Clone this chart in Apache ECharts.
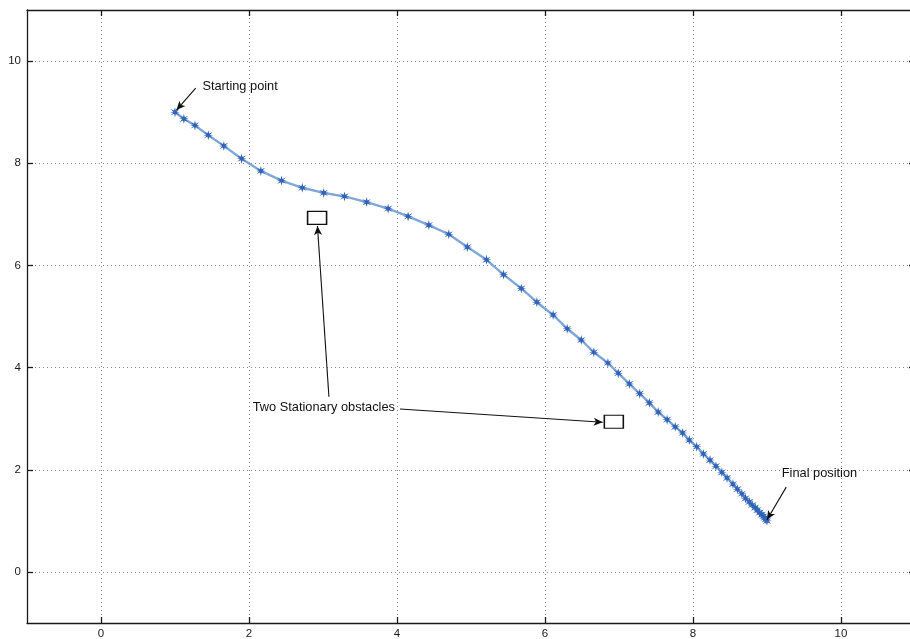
<!DOCTYPE html>
<html>
<head>
<meta charset="utf-8">
<script src="https://cdn.jsdelivr.net/npm/echarts@6/dist/echarts.min.js"></script>
<style>
  html, body { margin: 0; padding: 0; background: #ffffff; }
  #chart { width: 910px; height: 639px; }
</style>
</head>
<body>
<div id="chart"></div>
<script>
// Robot trajectory from the starting point to the final position
const pathX = [1.00, 1.12, 1.27, 1.45, 1.66, 1.90, 2.16, 2.44, 2.72, 3.01, 3.29, 3.59, 3.88, 4.15, 4.43,
  4.70, 4.95, 5.21, 5.44, 5.68, 5.89, 6.11, 6.30, 6.49, 6.66, 6.85, 6.99, 7.14, 7.28, 7.41, 7.53, 7.65,
  7.76, 7.86, 7.95, 8.05, 8.14, 8.23, 8.31, 8.39, 8.46, 8.54, 8.60, 8.66, 8.71, 8.76, 8.80, 8.84, 8.87,
  8.90, 8.93, 8.95, 8.97, 8.985, 9.00];
const pathY = [9.00, 8.87, 8.74, 8.55, 8.34, 8.09, 7.85, 7.66, 7.52, 7.42, 7.35, 7.24, 7.11, 6.96, 6.79,
  6.61, 6.36, 6.11, 5.82, 5.55, 5.28, 5.03, 4.76, 4.54, 4.30, 4.09, 3.89, 3.68, 3.49, 3.31, 3.13, 2.98,
  2.84, 2.72, 2.58, 2.45, 2.31, 2.19, 2.07, 1.95, 1.84, 1.72, 1.62, 1.53, 1.44, 1.37, 1.31, 1.26, 1.21,
  1.16, 1.12, 1.09, 1.06, 1.03, 1.00];

// Stationary obstacles (centres)
const obstacleX = [2.92, 6.93];
const obstacleY = [6.93, 2.94];

// Axis ticks
const xTicks = [0, 2, 4, 6, 8, 10];
const yTicks = [0, 2, 4, 6, 8, 10];
const axisMin = -1;
const axisMax = 11;

// Annotation texts and arrows (data coordinates)
const noteTexts = ['Starting point', 'Two Stationary obstacles', 'Final position'];
const noteX = [1.37, 2.05, 9.20];
const noteY = [9.51, 3.21, 1.92];
const arrowFrom = [[1.28, 9.47], [4.04, 3.19], [3.08, 3.43], [9.26, 1.66]];
const arrowTo = [[1.02, 9.04], [6.78, 2.93], [2.925, 6.77], [9.00, 1.02]];

const FONT = 'Liberation Sans, Arial, sans-serif';

const starSymbol = 'path://M5,0 L5.9,3.4 L9.3,1.9 L6.7,4.5 L10,5 L6.7,5.5 L9.3,8.1 L5.9,6.6 L5,10 L4.1,6.6 L0.7,8.1 L3.3,5.5 L0,5 L3.3,4.5 L0.7,1.9 L4.1,3.4 Z';

function makeAxis(position, ticks, showLabel, showGrid, name, showLine) {
  return {
    type: 'value',
    position: position,
    min: axisMin,
    max: axisMax,
    axisLine: { show: showLine, onZero: false, lineStyle: { color: '#1a1a1a', width: 1.3 } },
    axisTick: { show: true, inside: true, length: 6, customValues: ticks, lineStyle: { color: '#1a1a1a', width: 1.3 } },
    axisLabel: {
      show: showLabel, customValues: ticks, color: '#1a1a1a',
      fontFamily: FONT, fontSize: 11.5, margin: name === 'x' ? 5 : 6
    },
    splitLine: {
      show: showGrid, customValues: ticks,
      lineStyle: { color: '#8a8a8a', type: [1, 3], width: 1 }
    },
    minorTick: { show: false },
    minorSplitLine: { show: false }
  };
}

const chart = echarts.init(document.getElementById('chart'), null, { renderer: 'canvas' });

chart.setOption({
  animation: false,
  backgroundColor: '#ffffff',
  grid: { left: 27, top: 10, width: 888, height: 613, containLabel: false, outerBoundsMode: 'none' },
  xAxis: [
    makeAxis('bottom', xTicks, true, true, 'x', true),
    makeAxis('top', xTicks, false, false, 'x', true)
  ],
  yAxis: [
    makeAxis('left', yTicks, true, true, 'y', true),
    makeAxis('right', yTicks, false, false, 'y', false)
  ],
  series: [
    {
      name: 'trajectory',
      type: 'line',
      data: pathX.map((x, i) => [x, pathY[i]]),
      showSymbol: true,
      symbol: starSymbol,
      symbolSize: 10,
      smooth: false,
      lineStyle: { color: '#7fa7da', width: 2.4 },
      itemStyle: { color: '#2f63b8' },
      z: 3
    },
    {
      name: 'obstacles',
      type: 'scatter',
      data: obstacleX.map((x, i) => [x, obstacleY[i]]),
      symbol: 'rect',
      symbolSize: [19, 13],
      itemStyle: { color: '#ffffff', borderColor: '#111111', borderWidth: 1.3, opacity: 1 },
      z: 4
    },
    {
      name: 'notes',
      type: 'scatter',
      data: noteX.map((x, i) => ({ value: [x, noteY[i]], name: noteTexts[i] })),
      symbolSize: 0,
      itemStyle: { opacity: 1 },
      label: {
        show: true,
        position: 'right',
        distance: 0,
        formatter: p => p.name,
        color: '#111111',
        fontFamily: FONT,
        fontSize: 12.8
      },
      markLine: {
        silent: true,
        symbol: ['none', 'arrow'],
        symbolSize: [6, 9],
        label: { show: false },
        lineStyle: { color: '#111111', width: 1.1, type: 'solid', opacity: 1 },
        data: arrowFrom.map((f, i) => [{ coord: f }, { coord: arrowTo[i] }])
      },
      z: 5
    }
  ]
});
</script>
</body>
</html>
